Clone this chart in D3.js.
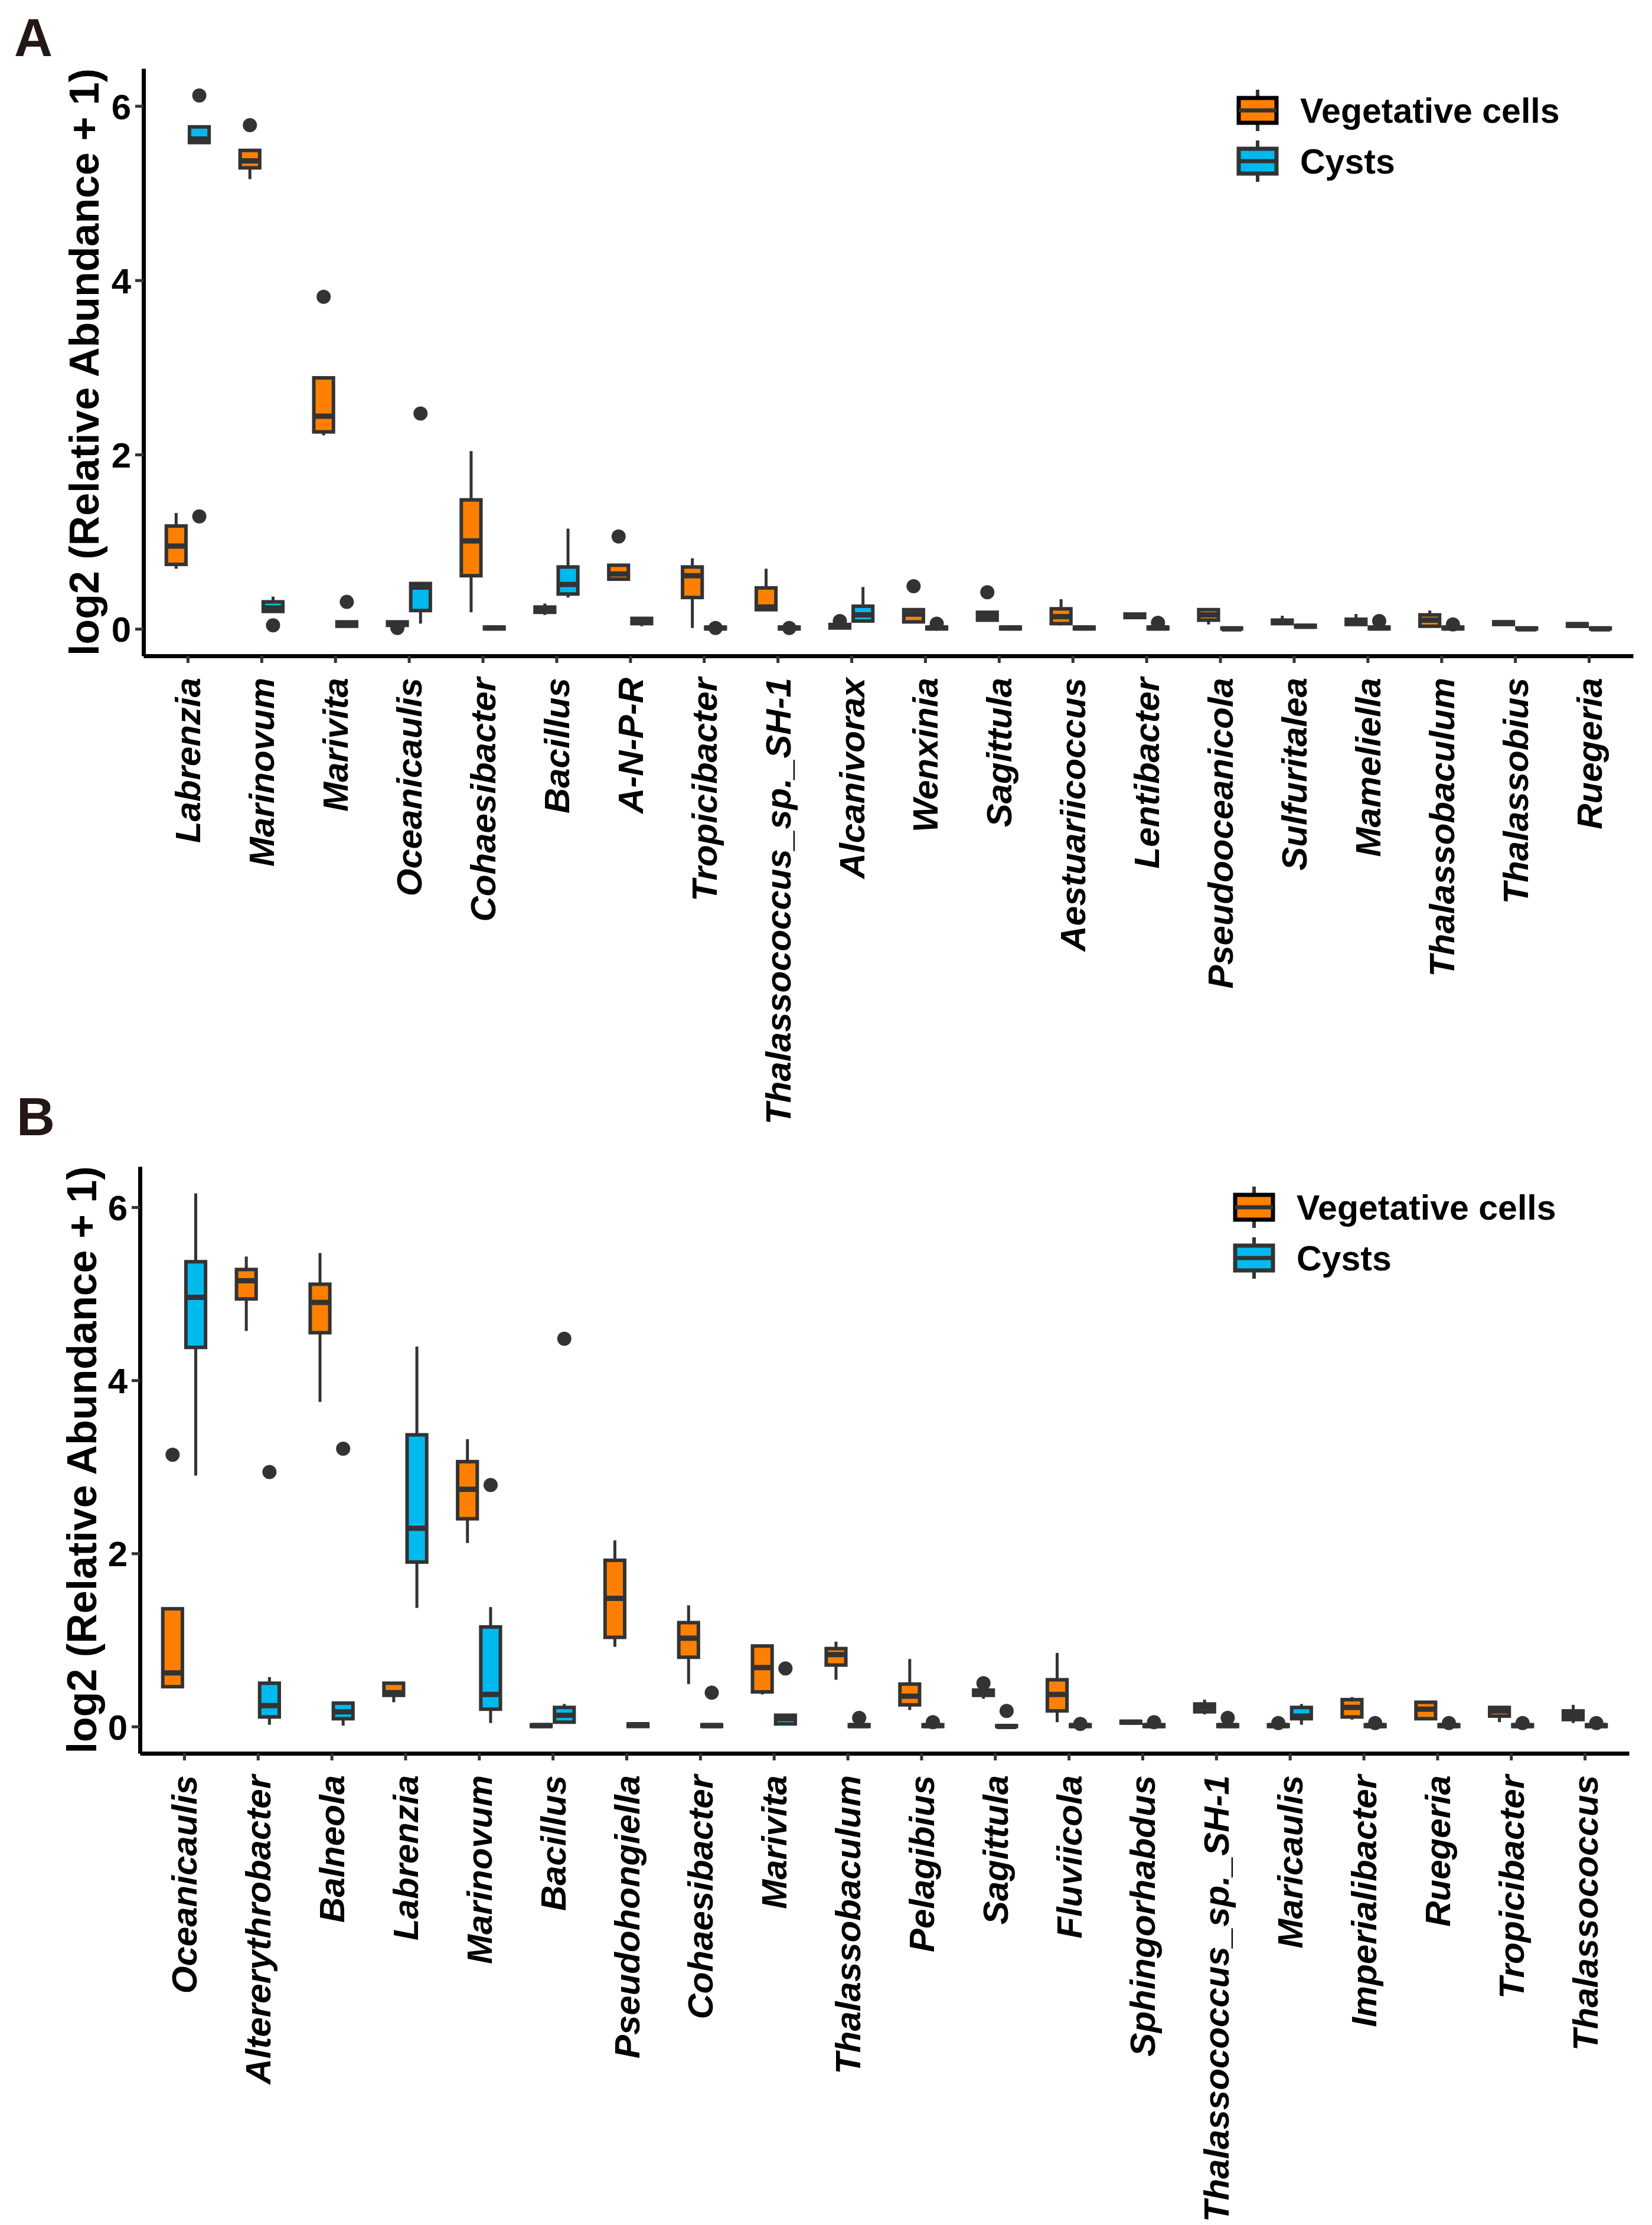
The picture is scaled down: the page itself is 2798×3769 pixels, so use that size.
<!DOCTYPE html>
<html>
<head>
<meta charset="utf-8">
<script src="https://cdn.jsdelivr.net/npm/d3@7"></script>
<style>
  html, body { margin: 0; padding: 0; background: #fff; }
  svg { display: block; }
</style>
</head>
<body>
<script>
// ---------- DATA ----------
const groups = ["Vegetative cells", "Cysts"];
const groupColors = ["#FF8000", "#00BAEE"];
const yTicks = [0, 2, 4, 6];

// Panel A
const catsA = ["Labrenzia","Marinovum","Marivita","Oceanicaulis","Cohaesibacter","Bacillus","A-N-P-R",
  "Tropicibacter","Thalassococcus_sp._SH-1","Alcanivorax","Wenxinia","Sagittula","Aestuariicoccus",
  "Lentibacter","Pseudooceanicola","Sulfuritalea","Mameliella","Thalassobaculum","Thalassobius","Ruegeria"];
// [lower whisker, Q1, median, Q3, upper whisker]
const vegA = [
  [0.69,0.74,0.95,1.18,1.33],[5.16,5.29,5.37,5.49,5.49],[2.22,2.26,2.44,2.88,2.88],[0.04,0.04,0.06,0.08,0.08],
  [0.19,0.61,1.01,1.48,2.04],[0.16,0.19,0.22,0.25,0.29],[0.57,0.57,0.63,0.73,0.73],[0.01,0.36,0.61,0.71,0.81],
  [0.22,0.22,0.25,0.47,0.69],[0.01,0.01,0.03,0.05,0.05],[0.08,0.08,0.17,0.22,0.22],[0.10,0.10,0.14,0.19,0.19],
  [0.04,0.06,0.14,0.23,0.34],[0.13,0.13,0.15,0.17,0.17],[0.05,0.10,0.16,0.22,0.22],[0.06,0.06,0.08,0.10,0.15],
  [0.05,0.05,0.08,0.11,0.17],[0.03,0.03,0.10,0.16,0.21],[0.05,0.05,0.07,0.08,0.08],[0.03,0.03,0.04,0.06,0.06]];
const cystA = [
  [5.58,5.58,5.62,5.76,5.76],[0.20,0.20,0.24,0.31,0.37],[0.03,0.03,0.05,0.08,0.08],[0.06,0.21,0.48,0.52,0.52],
  [0,0,0.01,0.02,0.02],[0.36,0.40,0.51,0.71,1.15],[0.03,0.06,0.09,0.12,0.12],[0,0,0.01,0.02,0.02],
  [0,0,0.01,0.02,0.02],[0.09,0.09,0.16,0.26,0.48],[0,0,0.01,0.02,0.02],[0,0,0.01,0.02,0.02],
  [0,0,0.01,0.02,0.04],[0,0,0.01,0.02,0.02],[0,0,0,0.01,0.01],[0.02,0.02,0.03,0.04,0.04],
  [0,0,0.01,0.02,0.02],[0,0,0.01,0.02,0.02],[0,0,0,0.01,0.01],[0,0,0,0.01,0.01]];
const vegOutA = [[],[5.78],[3.81],[0.01],[],[],[1.06],[],[],[0.09],[0.49],[0.42],[],[],[],[],[],[],[],[]];
const cystOutA = [[6.12,1.29],[0.04],[0.31],[2.47],[],[],[],[0.01],[0.01],[],[0.06],[],[],[0.07],[],[],[0.09],[0.05],[],[]];

// Panel B
const catsB = ["Oceanicaulis","Altererythrobacter","Balneola","Labrenzia","Marinovum","Bacillus","Pseudohongiella",
  "Cohaesibacter","Marivita","Thalassobaculum","Pelagibius","Sagittula","Fluviicola","Sphingorhabdus",
  "Thalassococcus_sp._SH-1","Maricaulis","Imperialibacter","Ruegeria","Tropicibacter","Thalassococcus"];
const vegB = [
  [0.46,0.46,0.62,1.36,1.36],[4.57,4.94,5.15,5.28,5.43],[3.75,4.55,4.90,5.11,5.47],[0.28,0.36,0.39,0.50,0.50],
  [2.12,2.40,2.74,3.06,3.32],[0,0,0.01,0.02,0.02],[0.92,1.03,1.48,1.92,2.15],[0.49,0.80,1.02,1.20,1.40],
  [0.37,0.40,0.68,0.93,0.93],[0.54,0.71,0.83,0.90,0.98],[0.19,0.25,0.35,0.49,0.78],[0.32,0.36,0.39,0.42,0.42],
  [0.05,0.18,0.37,0.54,0.85],[0.04,0.04,0.05,0.06,0.06],[0.14,0.17,0.22,0.26,0.31],[0,0,0.01,0.02,0.02],
  [0.08,0.11,0.22,0.31,0.34],[0.09,0.09,0.20,0.28,0.28],[0.05,0.12,0.18,0.22,0.22],[0.04,0.08,0.13,0.18,0.25]];
const cystB = [
  [2.90,4.38,4.96,5.37,6.16],[0.02,0.11,0.24,0.50,0.57],[0.01,0.09,0.17,0.27,0.27],[1.37,1.90,2.29,3.37,4.39],
  [0.04,0.20,0.37,1.15,1.38],[0.05,0.05,0.13,0.22,0.26],[0,0,0.02,0.03,0.03],[0,0,0.01,0.02,0.02],
  [0.03,0.03,0.09,0.13,0.13],[0,0,0.01,0.02,0.02],[0,0,0.01,0.02,0.02],[0,0,0,0.01,0.01],
  [0,0,0.01,0.02,0.02],[0,0,0.01,0.02,0.02],[0,0,0.01,0.02,0.02],[0.02,0.09,0.12,0.22,0.26],
  [0,0,0.01,0.02,0.02],[0,0,0.01,0.02,0.02],[0,0,0.01,0.02,0.02],[0,0,0.01,0.02,0.02]];
const vegOutB = [[3.14],[],[],[],[],[],[],[],[],[],[],[0.50],[],[],[],[0.04],[],[],[],[]];
const cystOutB = [[],[2.94],[3.21],[],[2.79],[4.48],[],[0.39],[0.67],[0.10],[0.05],[0.18],[0.03],[0.05],[0.10],[],[0.04],[0.04],[0.04],[0.04]];

// ---------- DRAW ----------
const W = 2798, H = 3769;
const FONT = "'Liberation Sans', Arial, Helvetica, sans-serif";
const svg = d3.select("body").append("svg").attr("width", W).attr("height", H)
  .style("font-family", FONT);
svg.append("rect").attr("width", W).attr("height", H).attr("fill", "#fff");

function drawPanel(cfg) {
  const g = svg.append("g");
  const x = d3.scalePoint().domain(cfg.cats).range([cfg.left, cfg.right]).padding(0.6);
  const y = d3.scaleLinear().domain(cfg.yDomain).range([cfg.bottom, cfg.top]);
  const step = x.step();
  const off = step * 0.157;
  const hw = step * 0.133;

  // Y axis
  const ya = g.append("g").attr("transform", `translate(${cfg.left},0)`)
    .call(d3.axisLeft(y).tickValues(yTicks).tickSize(14).tickSizeOuter(0).tickPadding(7).tickFormat(d3.format("d")));
  ya.select(".domain").attr("stroke", "#000").attr("stroke-width", 7);
  ya.selectAll(".tick line").attr("stroke", "#333").attr("stroke-width", 5);
  ya.selectAll(".tick text").attr("fill", "#000").attr("font-size", 60).attr("font-weight", "bold")
    .attr("font-family", FONT).attr("dy", "0.36em");

  // X axis
  const xa = g.append("g").attr("transform", `translate(0,${cfg.bottom})`)
    .call(d3.axisBottom(x).tickSize(12).tickSizeOuter(0));
  xa.select(".domain").attr("stroke", "#000").attr("stroke-width", 7);
  xa.selectAll(".tick line").attr("stroke", "#333").attr("stroke-width", 5);
  xa.selectAll(".tick text").attr("fill", "#000").attr("font-size", 60).attr("font-weight", "bold")
    .attr("font-style", "italic").attr("font-family", FONT)
    .attr("transform", "rotate(-90)").attr("x", -37).attr("y", 0).attr("dy", "0.35em")
    .attr("text-anchor", "end");

  // Y title
  g.append("text").attr("transform", `translate(${cfg.titleX},${(cfg.top + cfg.bottom) / 2}) rotate(-90)`)
    .attr("text-anchor", "middle").attr("font-size", 70).attr("font-weight", "bold").attr("fill", "#000")
    .text("log2 (Relative Abundance + 1)");

  // Panel letter
  g.append("text").attr("x", cfg.letterX).attr("y", cfg.letterY).attr("font-size", 90)
    .attr("font-weight", "bold").attr("fill", "#231815").text(cfg.letter);

  // Boxes
  const series = [
    { stats: cfg.veg, outs: cfg.vegOut, color: groupColors[0], dx: -off },
    { stats: cfg.cyst, outs: cfg.cystOut, color: groupColors[1], dx: off }
  ];
  const boxes = g.append("g");
  cfg.cats.forEach((c, i) => {
    series.forEach(s => {
      const st = s.stats[i];
      const cx = x(c) + s.dx;
      const bg = boxes.append("g");
      bg.append("line").attr("x1", cx).attr("x2", cx).attr("y1", y(st[3])).attr("y2", y(st[4]))
        .attr("stroke", "#333").attr("stroke-width", 5);
      bg.append("line").attr("x1", cx).attr("x2", cx).attr("y1", y(st[1])).attr("y2", y(st[0]))
        .attr("stroke", "#333").attr("stroke-width", 5);
      bg.append("rect").attr("x", cx - hw).attr("width", 2 * hw)
        .attr("y", y(st[3])).attr("height", Math.max(0, y(st[1]) - y(st[3])))
        .attr("fill", s.color).attr("stroke", "#333").attr("stroke-width", 6);
      bg.append("line").attr("x1", cx - hw).attr("x2", cx + hw).attr("y1", y(st[2])).attr("y2", y(st[2]))
        .attr("stroke", "#333").attr("stroke-width", 9);
      s.outs[i].forEach(v => {
        bg.append("circle").attr("cx", cx).attr("cy", y(v)).attr("r", 12).attr("fill", "#333");
      });
    });
  });

  // Legend
  const lg = g.append("g");
  groups.forEach((name, k) => {
    const cy = cfg.legY + k * 86;
    const kx = cfg.legX;
    lg.append("line").attr("x1", kx).attr("x2", kx).attr("y1", cy - 35).attr("y2", cy + 35)
      .attr("stroke", "#333").attr("stroke-width", 6);
    lg.append("rect").attr("x", kx - 32).attr("y", cy - 21).attr("width", 64).attr("height", 42)
      .attr("fill", groupColors[k]).attr("stroke", k === 0 ? "#000" : "#333").attr("stroke-width", 7);
    lg.append("line").attr("x1", kx - 32).attr("x2", kx + 32).attr("y1", cy).attr("y2", cy)
      .attr("stroke", "#333").attr("stroke-width", 7);
    lg.append("text").attr("x", kx + 72).attr("y", cy + 21).attr("font-size", 59)
      .attr("font-weight", "bold").attr("fill", "#000").text(name);
  });
}

drawPanel({
  cats: catsA, veg: vegA, cyst: cystA, vegOut: vegOutA, cystOut: cystOutA,
  left: 243, right: 2766, top: 116, bottom: 1111, yDomain: [-0.31, 6.43],
  letter: "A", letterX: 24, letterY: 95, legX: 2130, legY: 187, titleX: 167
});
drawPanel({
  cats: catsB, veg: vegB, cyst: cystB, vegOut: vegOutB, cystOut: cystOutB,
  left: 237, right: 2759, top: 1976, bottom: 2970, yDomain: [-0.31, 6.47],
  letter: "B", letterX: 28, letterY: 1923, legX: 2124, legY: 2045, titleX: 163
});
</script>
</body>
</html>
